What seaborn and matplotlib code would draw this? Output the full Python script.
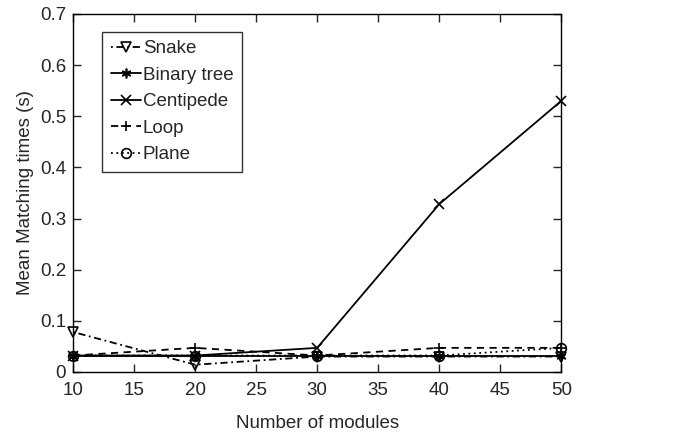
import matplotlib
matplotlib.use("Agg")
import matplotlib.pyplot as plt
import seaborn as sns
import pandas as pd

modules = [10, 20, 30, 40, 50]
snake = [0.078, 0.014, 0.030, 0.030, 0.030]
binary_tree = [0.032, 0.032, 0.032, 0.032, 0.032]
centipede = [0.032, 0.032, 0.047, 0.328, 0.530]
loop = [0.032, 0.047, 0.032, 0.047, 0.047]
plane = [0.032, 0.032, 0.032, 0.032, 0.047]

series = [
    ("Snake", snake, (0, (1, 2, 4, 2)), "v", "none"),
    ("Binary tree", binary_tree, "-", (6, 2, 0), "black"),
    ("Centipede", centipede, "-", "x", "black"),
    ("Loop", loop, (0, (4, 3)), "+", "black"),
    ("Plane", plane, (0, (1, 2)), "o", "none"),
]

sns.set_style("white")
plt.rcParams["font.family"] = ["Liberation Sans", "DejaVu Sans"]

fig = plt.figure(figsize=(6.77, 4.37), dpi=100)
ax = fig.add_axes([0.108, 0.149, 0.721, 0.819])

for name, vals, ls, mk, mfc in series:
    df = pd.DataFrame({"x": modules, "y": vals})
    sns.lineplot(data=df, x="x", y="y", ax=ax, color="black", linestyle=ls,
                 marker=mk, markersize=7, markerfacecolor=mfc,
                 markeredgecolor="black", markeredgewidth=1.2,
                 linewidth=1.3, label=name)
for ln in ax.lines:
    ln.set_clip_on(False)

ax.set_xlim(10, 50)
ax.set_ylim(0, 0.7)
ax.set_xticks([10, 15, 20, 25, 30, 35, 40, 45, 50])
ax.set_yticks([0, 0.1, 0.2, 0.3, 0.4, 0.5, 0.6, 0.7])
ax.set_yticklabels(["0", "0.1", "0.2", "0.3", "0.4", "0.5", "0.6", "0.7"])
ax.set_xlabel("Number of modules", fontsize=13.5, labelpad=12)
ax.set_ylabel("Mean Matching times (s)", fontsize=13.5, labelpad=4)
ax.tick_params(axis="both", direction="in", length=6, width=1, labelsize=13.5,
               top=True, right=True, bottom=True, left=True, pad=5)
ax.tick_params(axis="x", pad=7)
for s in ax.spines.values():
    s.set_color("black")
    s.set_linewidth(1)

leg = ax.legend(loc="upper left", bbox_to_anchor=(0.06, 0.95), fontsize=13.5,
                frameon=True, fancybox=False, edgecolor="black",
                handlelength=1.6, handletextpad=0.1, labelspacing=0.5,
                borderpad=0.45, borderaxespad=0)
leg.get_frame().set_linewidth(1)

fig.savefig("out.png", dpi=100, facecolor="white")
